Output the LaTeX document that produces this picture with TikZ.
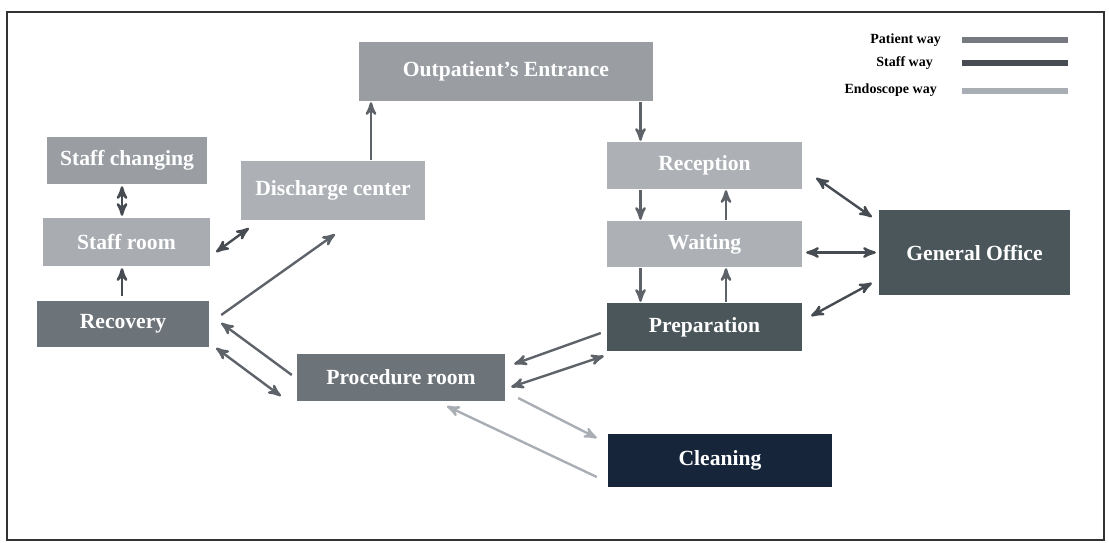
\documentclass[tikz,border=0pt]{standalone}
\usepackage{fontspec}
\setmainfont{Liberation Serif}
\usepackage{xcolor}
\usepackage{tikz}
\usetikzlibrary{arrows}

\definecolor{roomgray}{HTML}{9A9EA3}
\definecolor{roomlight}{HTML}{ADB1B6}
\definecolor{roommid}{HTML}{6C7379}
\definecolor{roomdark}{HTML}{4B565B}
\definecolor{roomnavy}{HTML}{17253A}
\definecolor{waypatient}{HTML}{5E636A}
\definecolor{waystaff}{HTML}{474C52}
\definecolor{wayendo}{HTML}{A9AEB4}

\begin{document}
\begin{tikzpicture}[x=0.5pt,y=-0.5pt,>=stealth',line width=1.2pt,
    room/.style={draw=none,inner sep=0pt,text=white,font=\bfseries\fontsize{10.8}{13}\selectfont},
    patient/.style={draw=waypatient},
    staff/.style={draw=waystaff},
    endo/.style={draw=wayendo},
    legend/.style={anchor=east,inner sep=0pt,font=\bfseries\fontsize{7}{8}\selectfont}]
    \useasboundingbox (0,0) rectangle (1109,542);
    \draw[line width=1pt,color=black!80] (7,12) rectangle (1104,540);

    % rooms
    \node[room,fill=roomgray,minimum width=147pt,minimum height=29.5pt] (entr) at (506,71.5) {Outpatient's Entrance};
    \node[room,fill=roomgray,minimum width=80pt,minimum height=23.5pt] (chg) at (127,160.5) {Staff changing};
    \node[room,fill=roomlight,minimum width=92pt,minimum height=29.5pt] (dis) at (333,190.5) {Discharge center};
    \node[room,fill=roomgray!85!white,minimum width=83.5pt,minimum height=24pt] (staffrm) at (126.5,242) {Staff room};
    \node[room,fill=roommid,minimum width=86pt,minimum height=23pt] (recov) at (123,324) {Recovery};
    \node[room,fill=roommid,minimum width=104pt,minimum height=23.5pt] (proc) at (401,377.5) {Procedure room};
    \node[room,fill=roomlight,minimum width=97.5pt,minimum height=23.5pt] (recep) at (704.5,165.5) {Reception};
    \node[room,fill=roomlight,minimum width=97.5pt,minimum height=23pt] (wait) at (704.5,244) {Waiting};
    \node[room,fill=roomdark,minimum width=97.5pt,minimum height=24pt] (prep) at (704.5,327) {Preparation};
    \node[room,fill=roomdark,minimum width=95.5pt,minimum height=42.5pt] (off) at (974.5,252.5) {General Office};
    \node[room,fill=roomnavy,minimum width=112pt,minimum height=26.5pt] (clean) at (720,460.5) {Cleaning};

    % legend
    \node[legend] (lpat) at (942,40) {Patient way};
    \node[legend] (lstf) at (934,63) {Staff way};
    \node[legend] (lend) at (938,90) {Endoscope way};
    \draw[draw=waypatient!85!white,line width=2.6pt] (962,40) -- (1068,40);
    \draw[draw=waystaff,line width=2.6pt] (962,63) -- (1068,63);
    \draw[draw=wayendo,line width=2.6pt] (962,91) -- (1068,91);

    % patient way
    \draw[patient,->] ([shift={(38,0)}]dis.north) -- ([shift={(38,0)}]dis.north |- entr.south);
    \draw[patient,->] ([shift={(-64,0)}]recep.north |- entr.south) -- ([shift={(-64,0)}]recep.north);
    \draw[patient,->] ([shift={(-64,0)}]recep.south) -- ([shift={(-64,0)}]wait.north);
    \draw[patient,->] ([shift={(21.5,0)}]wait.north) -- ([shift={(21.5,0)}]recep.south);
    \draw[patient,->] ([shift={(-64,0)}]wait.south) -- ([shift={(-64,0)}]prep.north);
    \draw[patient,->] ([shift={(21.5,0)}]prep.north) -- ([shift={(21.5,0)}]wait.south);
    \draw[patient,->] ([shift={(-5,6)}]prep.west) -- ([shift={(8,-13.5)}]proc.east);
    \draw[patient,<->] ([shift={(5,9.5)}]proc.east) -- ([shift={(-2,29)}]prep.west);
    \draw[patient,->] ([shift={(-4,-2.5)}]proc.west) -- ([shift={(11,-1)}]recov.east);
    \draw[patient,<->] ([shift={(6,24)}]recov.east) -- ([shift={(-15,18.5)}]proc.west);
    \draw[patient,->] ([shift={(11,-9)}]recov.east) -- ([shift={(2,13)}]dis.south);

    % staff way
    \draw[staff,<->] ([shift={(13,12.5)}]recep.east) -- ([shift={(-6,-35.5)}]off.west);
    \draw[staff,<->] ([shift={(3,0)}]wait.east |- off.west) -- ([shift={(-2,0)}]off.west);
    \draw[staff,<->] ([shift={(8,-11)}]prep.east) -- ([shift={(-6,30.5)}]off.west);
    \draw[staff,<->] ([shift={(5,10)}]staffrm.east) -- ([shift={(9,7)}]dis.south west);
    \draw[staff,<->] ([shift={(-5,1)}]chg.south) -- ([shift={(-5,-1)}]chg.south |- staffrm.north);
    \draw[staff,->] ([shift={(-1,-4)}]recov.north) -- ([shift={(-1,1)}]recov.north |- staffrm.south);

    % endoscope way
    \draw[endo,->] ([shift={(12,20.5)}]proc.east) -- ([shift={(-10,-22.5)}]clean.west);
    \draw[endo,->] ([shift={(-10,16.5)}]clean.west) -- ([shift={(46,4)}]proc.south);
\end{tikzpicture}
\end{document}
